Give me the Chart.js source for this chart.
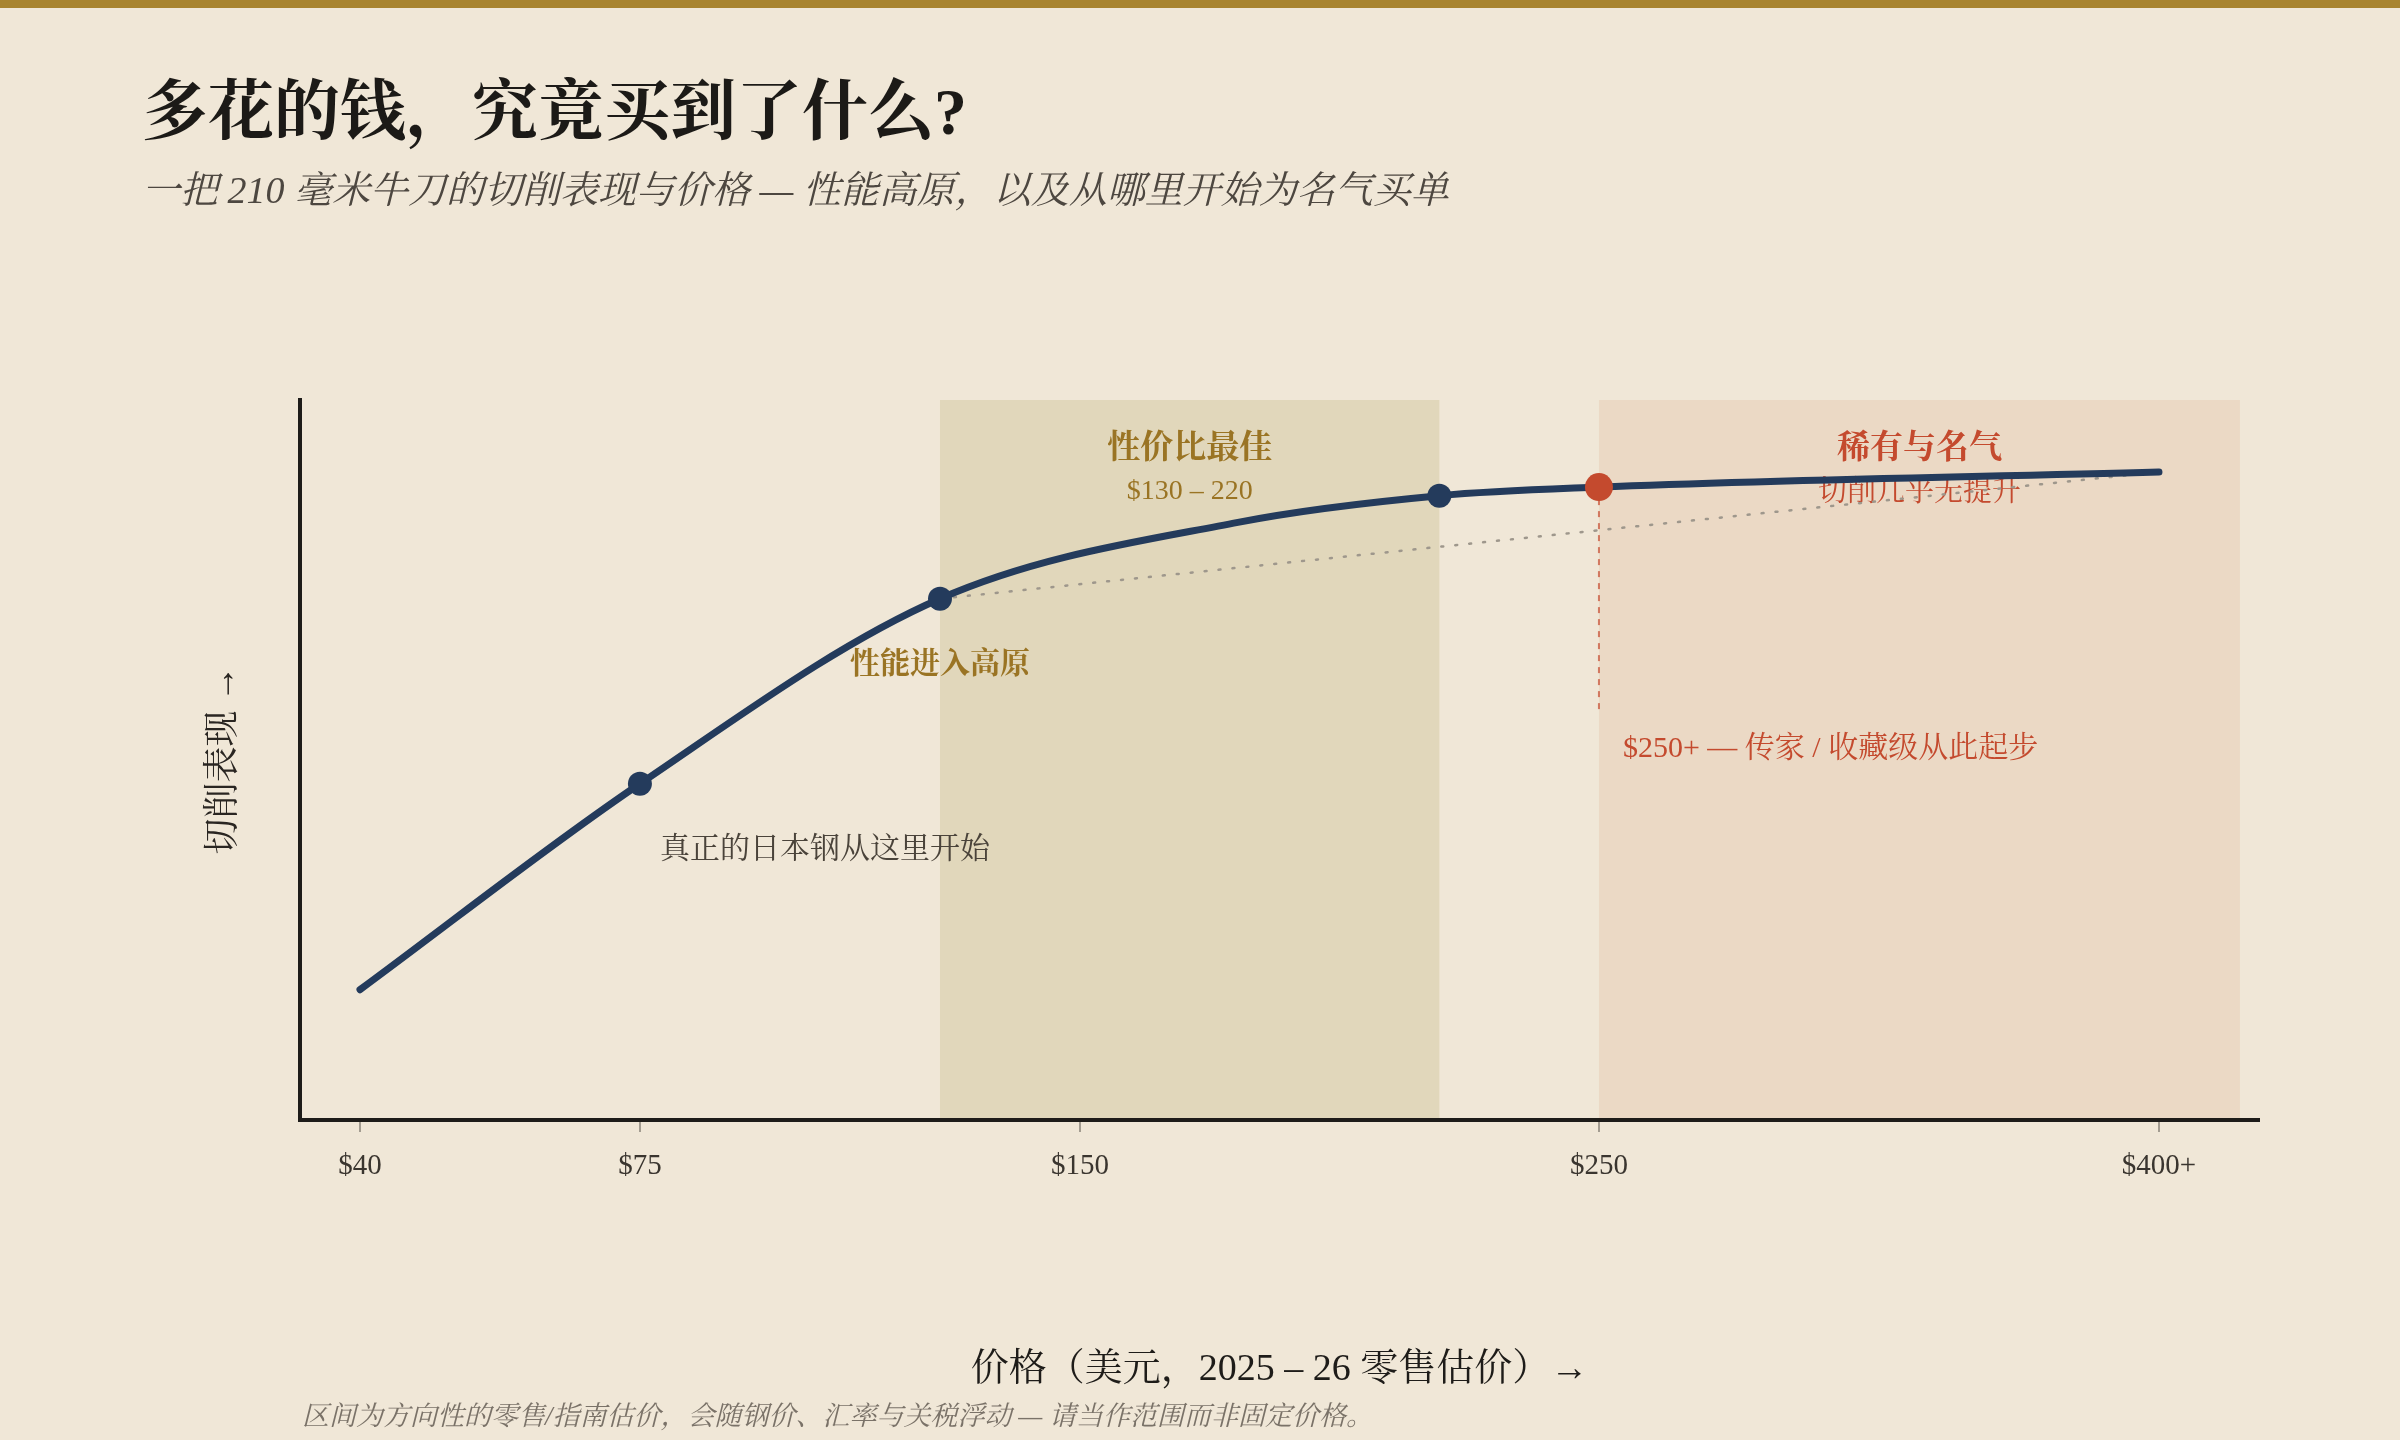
<!DOCTYPE html>
<html lang="zh-CN">
<head>
<meta charset="utf-8">
<title>多花的钱，究竟买到了什么?</title>
<script src="https://cdn.jsdelivr.net/npm/chart.js@4.4.1/dist/chart.umd.min.js"></script>
<style>
  html, body { margin: 0; padding: 0; background: #f0e7d7; }
  body { width: 2400px; height: 1440px; position: relative; overflow: hidden;
         font-family: "Liberation Serif", "Noto Serif CJK SC", "Noto Sans CJK SC", serif; }
  .topbar { position: absolute; left: 0; top: 0; width: 2400px; height: 8px; background: #a8842f; }
  .titulo { position: absolute; left: 142px; top: 79px; font-size: 66px; line-height: 66px;
            font-weight: bold; color: #1c1a17; white-space: nowrap; }
  .subtitulo { position: absolute; left: 142px; top: 171px; font-size: 38px; line-height: 38px;
               font-style: italic; color: #4d4740; white-space: nowrap; }
  .nota { position: absolute; left: 302px; top: 1403px; font-size: 27px; line-height: 27px;
          font-style: italic; color: #7a7268; white-space: nowrap; }
  .lienzo { position: absolute; left: 0; top: 0; width: 2400px; height: 1440px; }
</style>
</head>
<body>
<div class="topbar"></div>
<div class="lienzo"><canvas id="curva"></canvas></div>
<div class="titulo">多花的钱，究竟买到了什么?</div>
<div class="subtitulo">一把 210 毫米牛刀的切削表现与价格 — 性能高原，以及从哪里开始为名气买单</div>
<div class="nota">区间为方向性的零售/指南估价，会随钢价、汇率与关税浮动 — 请当作范围而非固定价格。</div>

<script>
// Datos del gráfico (posición en el eje de precio: $40 = 0, $400 = 100)
const tickLabels = ['$40', '$75', '$150', '$250', '$400+'];
const tickPos = [0, 15.56, 40.02, 68.87, 100];

// precios de la curva: 40, 75, 130, ~185, 220, 250, 400
const curvePos = [0, 15.56, 32.24, 48.8, 60.0, 68.87, 100];
const curvePerf = [18.1, 46.7, 72.4, 83.0, 86.7, 87.9, 90.0];

// puntos marcados (índices en la curva)
const markedIdx = [1, 2, 4];
const premiumIdx = 5;
const plateauIdx = 2;

// bandas
const valueBand = [curvePos[2], curvePos[4]];      // $130 – 220
const premiumBand = [curvePos[5], 104.5];           // $250+
const premiumLineBottom = 56.7;

const FONT = '"Liberation Serif", "Noto Serif CJK SC", "Noto Sans CJK SC", serif';
const NAVY = '#243b5c';
const GOLD = '#9a7424';
const RED = '#c44a2e';

// Dibujar bandas, línea discontinua y textos
const anotaciones = {
    id: 'anotaciones',
    beforeDraw(chart) {
        const { ctx, chartArea: a, scales: { x } } = chart;
        ctx.save();
        ctx.fillStyle = '#e1d7bb';
        let x0 = x.getPixelForValue(valueBand[0]);
        let x1 = x.getPixelForValue(valueBand[1]);
        ctx.fillRect(x0, a.top, x1 - x0, a.bottom - a.top);
        ctx.fillStyle = '#ebd9c5';
        x0 = x.getPixelForValue(premiumBand[0]);
        x1 = x.getPixelForValue(premiumBand[1]);
        ctx.fillRect(x0, a.top, x1 - x0, a.bottom - a.top);
        ctx.restore();
    },
    beforeDatasetsDraw(chart) {
        const { ctx, chartArea: a, scales: { x, y } } = chart;
        ctx.save();

        // línea vertical en $250
        const px = x.getPixelForValue(curvePos[premiumIdx]);
        const pyTop = y.getPixelForValue(curvePerf[premiumIdx]);
        const pyBot = y.getPixelForValue(premiumLineBottom);
        ctx.strokeStyle = 'rgba(196, 74, 46, 0.7)';
        ctx.lineWidth = 2;
        ctx.setLineDash([6, 6]);
        ctx.beginPath();
        ctx.moveTo(px, pyTop);
        ctx.lineTo(px, pyBot);
        ctx.stroke();
        ctx.setLineDash([]);

        ctx.textBaseline = 'middle';
        const texto = (t, tx, ty, size, color, bold, align) => {
            ctx.font = (bold ? 'bold ' : '') + size + 'px ' + FONT;
            ctx.fillStyle = color;
            ctx.textAlign = align || 'center';
            ctx.fillText(t, tx, ty);
        };

        const vCenter = (x.getPixelForValue(valueBand[0]) + x.getPixelForValue(valueBand[1])) / 2;
        texto('性价比最佳', vCenter, a.top + 49, 33, GOLD, true);
        texto('$130 – 220', vCenter, a.top + 92, 28, GOLD, false);

        const pCenter = (x.getPixelForValue(premiumBand[0]) + x.getPixelForValue(premiumBand[1])) / 2;
        texto('稀有与名气', pCenter, a.top + 49, 33, RED, true);
        texto('切削几乎无提升', pCenter, a.top + 93, 29, RED, false);

        const p130x = x.getPixelForValue(curvePos[plateauIdx]);
        const p130y = y.getPixelForValue(curvePerf[plateauIdx]);
        texto('性能进入高原', p130x, p130y + 67, 30, GOLD, true);

        const p75x = x.getPixelForValue(curvePos[1]);
        const p75y = y.getPixelForValue(curvePerf[1]);
        texto('真正的日本钢从这里开始', p75x + 20, p75y + 66, 30, '#4a433a', false, 'left');

        texto('$250+ — 传家 / 收藏级从此起步', px + 24, pyBot + 37, 30, RED, false, 'left');

        ctx.restore();
    }
};

function construirGrafico() {
    const puntos = curvePos.map((v, i) => ({ x: v, y: curvePerf[i] }));
    const radios = curvePos.map((v, i) => i === premiumIdx ? 14 : (markedIdx.includes(i) ? 12 : 0));
    const colores = curvePos.map((v, i) => i === premiumIdx ? RED : NAVY);
    const recta = [plateauIdx, curvePos.length - 1].map(i => ({ x: curvePos[i], y: curvePerf[i] }));

    new Chart(document.getElementById('curva'), {
        type: 'line',
        data: {
            datasets: [{
                data: puntos,
                borderColor: NAVY,
                borderWidth: 7,
                borderCapStyle: 'round',
                cubicInterpolationMode: 'monotone',
                pointRadius: radios,
                pointBackgroundColor: colores,
                pointBorderWidth: 0,
                pointHoverRadius: radios
            }, {
                data: recta,
                borderColor: '#9e978c',
                borderWidth: 2.5,
                borderDash: [2, 12],
                borderCapStyle: 'round',
                pointRadius: 0,
                tension: 0
            }]
        },
        options: {
            responsive: true,
            maintainAspectRatio: false,
            devicePixelRatio: 1,
            animation: false,
            layout: { padding: { top: 400, right: 141, bottom: 0, left: 0 } },
            plugins: { legend: { display: false }, tooltip: { enabled: false } },
            scales: {
                x: {
                    type: 'linear',
                    min: -3.335,
                    max: 105.56,
                    afterBuildTicks: (s) => { s.ticks = tickPos.map(v => ({ value: v })); },
                    afterFit: (s) => { s.height = 320; },
                    ticks: {
                        autoSkip: false,
                        maxRotation: 0,
                        padding: 17,
                        color: '#3a352f',
                        font: { family: FONT, size: 29 },
                        callback: (v) => tickLabels[tickPos.indexOf(v)]
                    },
                    grid: { drawOnChartArea: false, drawTicks: true, tickLength: 12, color: '#a39c90', lineWidth: 2 },
                    border: { display: true, color: '#1e1c19', width: 4 },
                    title: {
                        display: true,
                        text: '价格（美元，2025 – 26 零售估价）→',
                        color: '#1e1c19',
                        font: { family: FONT, size: 38 },
                        padding: { top: 0, bottom: 47 }
                    }
                },
                y: {
                    min: 0,
                    max: 100,
                    afterFit: (s) => { s.width = 300; },
                    ticks: { display: false },
                    grid: { display: false },
                    border: { display: true, color: '#1e1c19', width: 4 },
                    title: {
                        display: true,
                        text: '切削表现 →',
                        color: '#2a2622',
                        font: { family: FONT, size: 36 },
                        padding: { top: 203, bottom: 0 }
                    }
                }
            }
        },
        plugins: [anotaciones]
    });
}

document.addEventListener('DOMContentLoaded', construirGrafico);
</script>
</body>
</html>
